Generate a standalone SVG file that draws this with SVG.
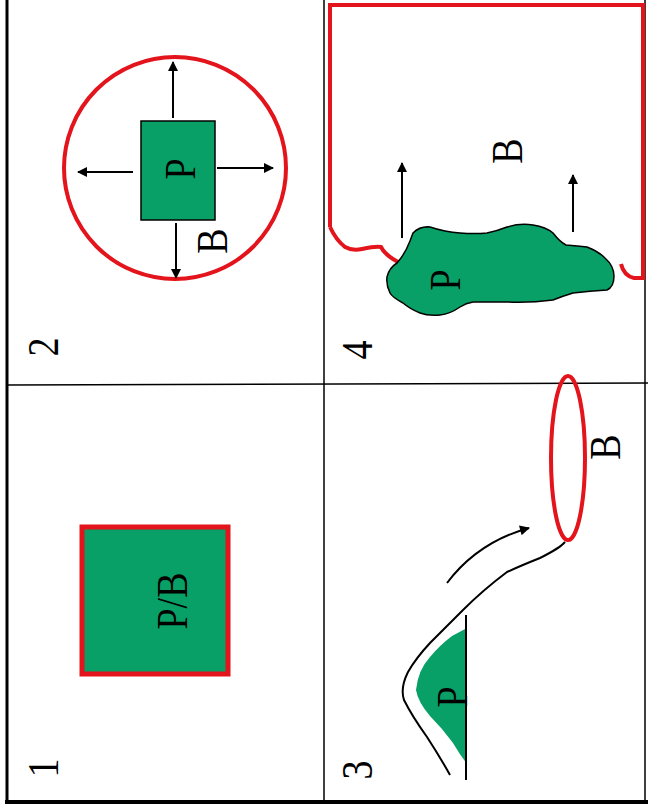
<svg xmlns="http://www.w3.org/2000/svg" width="648" height="812" viewBox="0 0 648 812">
<defs>
<style>
.lbl{font-family:"Liberation Serif","Times New Roman",serif;font-size:38px;fill:#000;text-anchor:middle}
.grid{stroke:#000;fill:none}
.red{stroke:#e3141b;fill:none;stroke-width:4}
.green{fill:#08a066}
.blk{stroke:#000;fill:none;stroke-width:2}
</style>
<marker id="ah" viewBox="0 0 10 10" refX="9" refY="5" markerWidth="5" markerHeight="5" orient="auto" markerUnits="userSpaceOnUse">
<path d="M0,0 L10,5 L0,10 z" fill="#000"/>
</marker>
<marker id="ah2" viewBox="0 0 10 10" refX="9" refY="5" markerWidth="14" markerHeight="10" orient="auto" markerUnits="userSpaceOnUse">
<path d="M0,0 L10,5 L0,10 z" fill="#000"/>
</marker>
</defs>
<rect width="648" height="812" fill="#fff"/>
<g id="grid">
<line class="grid" x1="7" y1="0" x2="7" y2="803" stroke-width="3"/>
<line class="grid" x1="5" y1="802" x2="648" y2="802" stroke-width="4"/>
<line class="grid" x1="645" y1="0" x2="645" y2="802" stroke-width="1.5"/>
<line class="grid" x1="324" y1="0" x2="324" y2="802" stroke-width="1.5"/>
<line class="grid" x1="7" y1="385" x2="648" y2="383" stroke-width="1.5"/>
</g>
<g id="panel2">
<circle class="red" cx="175" cy="168" r="111"/>
<rect class="green" x="141" y="121" width="74" height="99" stroke="#000" stroke-width="1.5"/>
<text class="lbl" transform="translate(195,169) rotate(-90) scale(1,1.15)">P</text>
<text class="lbl" transform="translate(227,241) rotate(-90) scale(1,1.15)">B</text>
<text class="lbl" transform="translate(58,347) rotate(-90) scale(1,1.15)">2</text>
</g>
<g id="panel1">
<rect class="green" x="82" y="527" width="146" height="147" stroke="#e3141b" stroke-width="5"/>
<text class="lbl" transform="translate(187,601) rotate(-90) scale(1,1.15)">P/B</text>
<text class="lbl" transform="translate(58,768) rotate(-90) scale(1,1.15)">1</text>
</g>
<g id="panel4">
<path class="red" d="M330,227 L330,5 L643,5 L643,278 L634,278 Q624,276 621,264"/>
<path class="red" d="M330,227 Q336,240 345,247 Q352,251 362,249 Q376,246 381,247 Q385,255 398,262"/>
<path class="green" stroke="#000" stroke-width="1.5" d="M413,233 Q420,226 430,227 Q445,232 460,233 Q475,234 487,233 Q497,231 507,227 Q520,223 533,225 Q546,227 553,233 Q560,242 566,245 Q578,246 587,247 Q598,251 605,258 Q614,266 614,276 Q614,287 607,290 Q590,291 573,293 Q563,296 553,300 Q530,303 507,302 Q490,302 473,302 Q466,303 460,307 Q450,314 440,315 Q428,316 420,313 Q410,309 403,303 Q392,297 390,293 Q386,285 387,277 Q389,268 397,263 Q405,254 410,241 Z"/>
<line class="blk" x1="402" y1="238" x2="402" y2="163" marker-end="url(#ah2)" stroke-width="1.5"/>
<line class="blk" x1="573" y1="232" x2="573" y2="175" marker-end="url(#ah2)" stroke-width="1.5"/>
<text class="lbl" transform="translate(522,151) rotate(-90) scale(1,1.15)">B</text>
<text class="lbl" transform="translate(460,280) rotate(-90) scale(1,1.15)">P</text>
<text class="lbl" transform="translate(372,350) rotate(-90) scale(1,1.15)">4</text>
</g>
<g id="panel3">
<ellipse class="red" cx="568" cy="458" rx="17" ry="82"/>
<path class="green" d="M467,628 L452,636 Q440,645 430,657 Q418,670 416,690 Q418,702 430,716 Q442,728 453,743 Q460,755 467,764 Z"/>
<path class="blk" d="M565,542 Q560,548 540,558 Q520,566 507,572 Q483,590 463,610 Q445,628 430,643 Q416,658 408,672 Q400,688 404,700 Q412,716 427,737 Q440,757 450,775"/>
<line class="blk" x1="466" y1="615" x2="466" y2="780"/>
<text class="lbl" transform="translate(620,447) rotate(-90) scale(1,1.15)">B</text>
<text class="lbl" transform="translate(467,697) rotate(-90) scale(1,1.15)">P</text>
<text class="lbl" transform="translate(372,770) rotate(-90) scale(1,1.15)">3</text>
</g>
<g id="connectors">
<line class="blk" x1="173" y1="118" x2="173" y2="62" marker-end="url(#ah2)" stroke-width="1.5"/>
<line class="blk" x1="133" y1="172" x2="78" y2="172" marker-end="url(#ah2)" stroke-width="1.5"/>
<line class="blk" x1="217" y1="168" x2="273" y2="168" marker-end="url(#ah2)" stroke-width="1.5"/>
<line class="blk" x1="176" y1="223" x2="176" y2="278" marker-end="url(#ah2)" stroke-width="1.5"/>
<path class="blk" d="M447,583 Q478,542 529,528" marker-end="url(#ah2)"/>
</g>
</svg>
